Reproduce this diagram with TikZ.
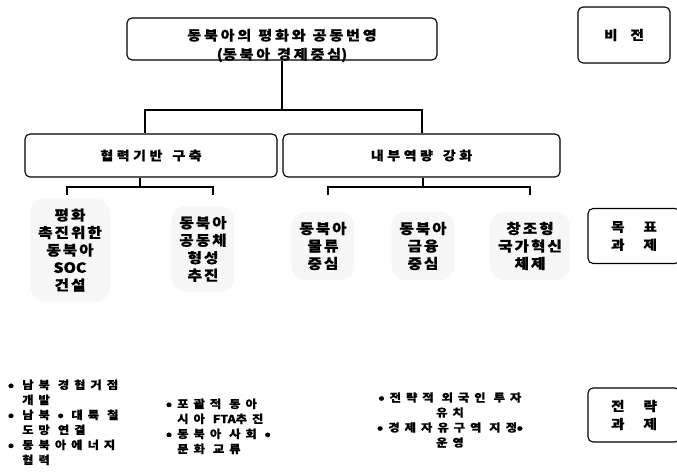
\documentclass[tikz,border=0pt]{standalone}
\usepackage{fontspec}
\setmainfont{Noto Sans CJK KR}[FakeStretch=1.12, BoldFeatures={FakeBold=0.7}]
% letter spacing between Hangul syllables
\XeTeXinterchartokenstate=1
\newXeTeXintercharclass\hangulclass
\newskip\hls
\hls=0pt\relax
\count255="AC00\relax
\loop
  \XeTeXcharclass\count255=\hangulclass\relax
  \ifnum\count255<"D7A3\relax \advance\count255 by 1\relax
\repeat
\XeTeXinterchartoks\hangulclass\hangulclass={\hskip\hls\relax}
\newcommand\setls[2]{\hls=#1\relax\spaceskip=#2\relax}
\newcommand\bul{\raisebox{1.2pt}{\fontsize{5}{6}\selectfont ●}}
\begin{document}
\begin{tikzpicture}[x=1pt,y=-1pt,
  box/.style={draw, line width=1.1pt, rounded corners=5pt, inner sep=0pt},
  conn/.style={line width=1.6pt},
  toptxt/.style={font={\bfseries\fontsize{13.5}{19}\selectfont\setls{2.8pt}{7pt}}, align=center, inner sep=0pt},
  midtxt/.style={font={\bfseries\fontsize{12.5}{15}\selectfont\setls{3.5pt}{10pt}}, align=center},
  goaltxt/.style={font={\bfseries\fontsize{14}{17.5}\selectfont\setls{2pt}{5pt}}, align=center,
                  fill=gray!6, rounded corners=14pt, inner xsep=8pt, inner ysep=10pt},
  sidetxt/.style={box, font={\bfseries\fontsize{13}{18}\selectfont}, align=center},
  listtxt/.style={font={\bfseries\fontsize{11}{15}\selectfont\setls{5pt}{8pt}}, inner sep=0pt}
]
\useasboundingbox (0,0) rectangle (677,473);

% level 1
\node[box, minimum width=310pt, minimum height=42pt] (top) at (282,39) {};
\node[toptxt] (toplbl) at (282,45.5) {동북아의 평화와 공동번영\\(동북아 경제중심)};
\node[sidetxt, minimum width=92pt, minimum height=56pt] (vis) at (624,35) {비\hspace{13pt}전};

% level 2
\node[box, midtxt, minimum width=252pt, minimum height=43pt] (b1) at (151,155.5) {협력기반 구축};
\node[box, midtxt, minimum width=277pt, minimum height=43pt] (b2) at (421.5,155.5) {내부역량 강화};

% level 3
\node[goaltxt] (t1) at (70,250) {평화\\촉진위한\\동북아\\SOC\\건설};
\node[goaltxt] (t2) at (203,249) {동북아\\공동체\\형성\\추진};
\node[goaltxt] (t3) at (323,246) {동북아\\물류\\중심};
\node[goaltxt] (t4) at (423,246) {동북아\\금융\\중심};
\node[goaltxt] (t5) at (530,246) {창조형\\국가혁신\\체제};
\node[sidetxt, minimum width=92pt, minimum height=55pt] (goal) at (634,236)
  {목\hspace{19pt}표\\과\hspace{19pt}제};

% strategic tasks
\node[listtxt, anchor=base west, align=left] (s1) at (8,464)
  {\makebox[14pt][l]{\bul}남북 경협거점\\
   \hspace*{14pt}개발\\
   \makebox[14pt][l]{\bul}남북 \bul{} 대륙 철\\
   \hspace*{14pt}도망 연결\\
   \makebox[14pt][l]{\bul}동북아에너지\\
   \hspace*{14pt}협력};
\node[listtxt, anchor=base west, align=left] (s2) at (166,453)
  {\makebox[11pt][l]{\bul}포괄적 동아\\
   \hspace*{11pt}시아 FTA추진\\
   \makebox[11pt][l]{\bul}동북아 사회 \bul\\
   \hspace*{11pt}문화 교류};
\node[listtxt, align=center] (s3) at (450,420)
  {\makebox[11pt][l]{\bul}전략적 외국인 투자\\
   유치\\
   \makebox[11pt][l]{\bul}경제자유구역 지정\bul\\
   운영};
\node[sidetxt, minimum width=92pt, minimum height=54pt] (strat) at (634,415)
  {전\hspace{19pt}략\\과\hspace{19pt}제};

% connectors
\coordinate (hL) at (145,110);
\coordinate (hR) at (422,110);
\draw[conn] (top.south) -- (top.south |- hL);
\draw[conn] (hL |- b1.north) -- (hL) -- (hR) -- (hR |- b2.north);

\coordinate (lc) at (140,187);
\coordinate (l1) at (67,187);
\coordinate (l2) at (213,187);
\coordinate (rc) at (423,187);
\coordinate (r1) at (328,187);
\coordinate (r2) at (530,187);
\draw[conn] (lc |- b1.south) -- (lc);
\draw[conn] (l1) ++(0,8) -- (l1) -- (l2) -- ++(0,8);
\draw[conn] (rc |- b2.south) -- (rc);
\draw[conn] (r1) ++(0,8) -- (r1) -- (r2) -- ++(0,8);
\end{tikzpicture}
\end{document}
